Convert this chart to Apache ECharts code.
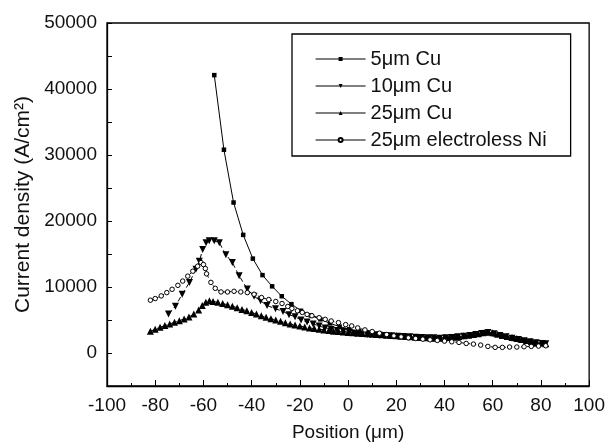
<!DOCTYPE html>
<html>
<head>
<meta charset="utf-8">
<script src="https://cdn.jsdelivr.net/npm/echarts@6/dist/echarts.min.js"></script>
<style>html,body{margin:0;padding:0;background:#fff}#c{width:608px;height:447px}</style>
</head>
<body>
<div id="c"></div>
<script>
const seriesNames = ['5μm Cu', '10μm Cu', '25μm Cu', '25μm electroless Ni'];

const x5 = [-55.5,-51.5,-47.5,-43.5,-39.5,-35.5,-31.5,-27.5,-23.5,-19.5,-15.5,-11.5,-7.5,-3.5,0.5,4.5,8.5,12.5,16.5,20.5,24.5,28.5,32.5,36.5,40.5,44.5,48.5,52.5,56.5,60.5,64.5,68.5,72.5,76.5,80.5];
const y5 = [42100,30800,22800,17900,14300,11800,10100,8600,7400,6400,5700,5100,4500,4000,3600,3300,3100,2900,2750,2600,2500,2400,2300,2250,2250,2350,2500,2750,3000,2850,2500,2200,1900,1600,1400];

const x10 = [-74.5,-71.6,-68.8,-65.8,-63.1,-61.7,-60.3,-58.9,-57.6,-55.5,-53.4,-50.7,-48,-45.2,-41.8,-39,-36.3,-33.6,-30.1,-27,-24.5,-22,-19.5,-17,-14.5,-12,-9.5,-7,-4.5,-2,0.5,3,5.5,8,10.5,13,15.5,18,20.5,23,25.5,28,30.5,33,35.5,38,40.5,43,45.5,48,50.5,53,55.5,58,60.5,63,65.5,68,70.5,73,75.5,78,80.5,82];
const y10 = [5900,7100,8900,10700,12700,13900,15700,16700,17000,17000,16700,14900,13700,11700,9700,8600,7900,7200,6700,6300,5800,5500,5000,4700,4400,4100,3800,3600,3400,3300,3100,3000,2900,2800,2750,2700,2650,2600,2550,2500,2450,2400,2350,2300,2300,2250,2300,2350,2450,2550,2650,2800,2950,3100,2900,2650,2450,2250,2050,1850,1700,1550,1450,1400];

const x25 = [-82,-80,-78,-76,-74,-72,-70,-68,-66,-64,-62,-60.5,-59,-57.5,-56,-54,-52,-50,-48,-46,-44,-42,-40,-38,-36,-34,-32,-30,-28,-26,-24,-22,-20,-18,-16,-14,-12,-10,-8,-6,-4,-2,0,2,4,6,8,10,12,14,16,18,20,22,24,26,28,30,32,34,36,38,40,42,44,46,48,50,52,54,56,58,60,62,64,66,68,70,72,74,76,78,80,82];
const y25 = [3300,3600,3900,4150,4400,4650,4900,5150,5450,5900,6500,7200,7700,7900,7800,7700,7500,7300,7100,6850,6600,6400,6150,5900,5650,5400,5200,5000,4800,4600,4400,4250,4100,3950,3800,3700,3600,3500,3400,3300,3250,3200,3100,3050,3000,2950,2900,2850,2800,2750,2700,2650,2600,2550,2500,2450,2400,2350,2300,2300,2250,2250,2300,2350,2400,2500,2600,2700,2800,2900,3050,3150,3050,2850,2650,2500,2350,2200,2050,1900,1750,1600,1500,1400];

const xNi = [-82,-80,-77.5,-75.2,-73,-70.6,-68.6,-66.5,-64.4,-62.4,-61,-60,-59.2,-58.7,-56.9,-55.1,-52.7,-50,-47.3,-44.5,-41.8,-39,-35.9,-32.9,-30,-27.4,-25,-23.3,-21,-19,-17,-15,-12,-9.5,-7,-4,-1,1.5,4,7,10,13,16,19,22,25,28,31,34,37,40,43,46,49,52,55,58,61,64,67,70,73,76,79,82];
const yNi = [8000,8250,8650,9150,9650,10250,10900,11650,12400,13150,13700,13400,12800,12000,10700,9800,9250,9250,9350,9250,9150,8900,8400,8100,7800,7500,7050,6750,6400,6150,5850,5650,5350,5100,4850,4600,4300,4100,3800,3500,3250,3000,2800,2600,2450,2300,2200,2100,2000,1900,1800,1700,1600,1450,1350,1200,1000,850,850,900,900,950,1000,1050,1100];

const xTicks = [-100,-80,-60,-40,-20,0,20,40,60,80,100];
const yTickLabels = [0,10000,20000,30000,40000,50000];

function pairs(xs, ys){ return xs.map((x,i)=>[x, ys[i]]); }

const chart = echarts.init(document.getElementById('c'), null, {renderer:'canvas'});
const font = 'Liberation Sans, Arial, sans-serif';
chart.setOption({
  animation:false,
  backgroundColor:'#fff',
  textStyle:{fontFamily:font},
  grid:{left:107, right:16, top:23, bottom:61, show:true, borderColor:'#000', borderWidth:1.3, backgroundColor:'transparent'},
  legend:{
    orient:'vertical', left:292, top:34,
    data:seriesNames,
    itemWidth:50, itemHeight:5, itemGap:7,
    padding:[15,24,6,23],
    borderColor:'#000', borderWidth:1.3, backgroundColor:'#fff',
    textStyle:{fontSize:20, color:'#111', fontFamily:font},
    lineStyle:{type:'solid', width:1.2},
    selectedMode:false
  },
  xAxis:{
    type:'value', min:-100, max:100, interval:20,
    name:'Position (μm)', nameLocation:'middle', nameGap:37,
    nameTextStyle:{fontSize:19, color:'#111', fontFamily:font},
    axisLine:{show:true, onZero:false, lineStyle:{color:'#000', width:1.3}},
    axisTick:{show:true, inside:true, length:6, lineStyle:{color:'#000'}},
    minorTick:{show:true, splitNumber:2, length:3, lineStyle:{color:'#000'}},
    axisLabel:{fontSize:19, color:'#111', margin:10, fontFamily:font,
      formatter:v=> xTicks.indexOf(v)>=0 ? String(v) : ''},
    splitLine:{show:false}
  },
  yAxis:{
    type:'value', min:-5000, max:50000, interval:5000,
    name:'Current density (A/cm²)', nameLocation:'middle', nameGap:71,
    nameTextStyle:{fontSize:21, color:'#111', fontFamily:font},
    axisLine:{show:true, onZero:false, lineStyle:{color:'#000', width:1.3}},
    axisTick:{show:true, inside:true, length:5, lineStyle:{color:'#000'}},
    axisLabel:{fontSize:19, color:'#111', margin:10, fontFamily:font,
      formatter:v=> yTickLabels.indexOf(v)>=0 ? String(v) : ''},
    splitLine:{show:false}
  },
  series:[
    {name:seriesNames[0], type:'line', data:pairs(x5,y5), symbol:'rect', symbolSize:4.5,
      lineStyle:{color:'#000', width:1, type:'solid'}, itemStyle:{color:'#000'}},
    {name:seriesNames[1], type:'line', data:pairs(x10,y10), symbol:'triangle', symbolRotate:180, symbolSize:7,
      lineStyle:{color:'#000', width:1, type:[5,3]}, itemStyle:{color:'#000'}},
    {name:seriesNames[2], type:'line', data:pairs(x25,y25), symbol:'triangle', symbolSize:7,
      lineStyle:{color:'#000', width:1, type:[5,2,1,2]}, itemStyle:{color:'#000'}},
    {name:seriesNames[3], type:'line', data:pairs(xNi,yNi), symbol:'circle', symbolSize:4.5,
      lineStyle:{color:'#000', width:1, type:[3,3]}, itemStyle:{color:'#fff', borderColor:'#000', borderWidth:1}}
  ]
});
</script>
</body>
</html>
